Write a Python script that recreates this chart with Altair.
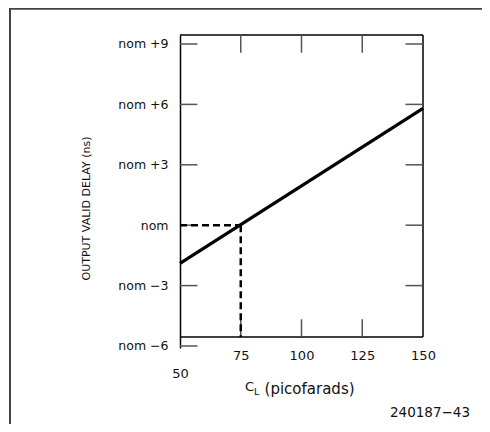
import altair as alt
import pandas as pd

# ---- data ----
x_ticks = [50, 75, 100, 125, 150]
y_ticks = [-6, -3, 0, 3, 6, 9]
y_tick_labels = ["nom −6", "nom −3", "nom", "nom +3", "nom +6", "nom +9"]
line_x = [50, 150]
line_y = [-1.9, 5.8]
ref_x = 75          # reference load (pF)
ref_y = 0           # nominal delay
x_domain = [50, 150]
y_domain = [-6.10, 9.447]
frame_top = 9.447
frame_bottom = -5.555
right_tick_values = [-3, 0, 3, 6, 9]
top_tick_values = [75, 100, 125]
x_title_parts = ["C", "L", "(picofarads)"]
footnote = "240187−43"

FONT = "DejaVu Sans"
xs = alt.Scale(domain=x_domain, nice=False, zero=False)
ys = alt.Scale(domain=y_domain, nice=False, zero=False)

label_expr = " : ".join(
    [f"datum.value == {v} ? '{l}'" for v, l in zip(y_ticks, y_tick_labels)]
) + " : ''"

xaxis = alt.Axis(values=x_ticks, title=None, domain=False, ticks=False, grid=False,
                 labelFont=FONT, labelFontSize=13, labelColor="#111",
                 labelPadding={"condition": {"test": "datum.value == 50", "value": 19}, "value": 1},
                 labelFlush=False)
yaxis = alt.Axis(values=y_ticks, labelExpr=label_expr, title="OUTPUT VALID DELAY (ns)",
                 domain=True, domainColor="#000", domainWidth=1.5, ticks=False, grid=False,
                 labelFont=FONT, labelFontSize=12.5, labelColor="#111", labelPadding=12,
                 titleFont=FONT, titleFontSize=11, titleFontWeight="normal", titleColor="#111",
                 titleX=-94, titleY=173, titleAlign="center", titleBaseline="middle")


def X(f):
    return alt.X(f, type="quantitative", scale=xs, axis=xaxis)


def Y(f):
    return alt.Y(f, type="quantitative", scale=ys, axis=yaxis)


# outer border (extends past the picture on right/bottom)
border = pd.DataFrame({"x": [-19.96], "x2": [260], "y": [10.75], "y2": [-30]})
border_layer = alt.Chart(border).mark_rect(fill=None, stroke="#444", strokeWidth=2).encode(
    x=X("x"), x2="x2", y=Y("y"), y2="y2")

# plot frame (top, bottom, right)
frame = pd.DataFrame({
    "x": [x_domain[0], x_domain[0], x_domain[1]],
    "x2": [x_domain[1], x_domain[1], x_domain[1]],
    "y": [frame_top, frame_bottom, frame_bottom],
    "y2": [frame_top, frame_bottom, frame_top],
})
frame_layer = alt.Chart(frame).mark_rule(color="#000", strokeWidth=1.5).encode(
    x=X("x"), x2="x2", y=Y("y"), y2="y2")

# inward ticks
xlen = 7.2
ylen = 0.88
rows = []
for v in y_ticks:
    rows.append({"x": x_domain[0], "x2": x_domain[0] + xlen, "y": v, "y2": v})
for v in right_tick_values:
    rows.append({"x": x_domain[1] - xlen, "x2": x_domain[1], "y": v, "y2": v})
for v in top_tick_values:
    rows.append({"x": v, "x2": v, "y": frame_top, "y2": frame_top - ylen})
    rows.append({"x": v, "x2": v, "y": frame_bottom, "y2": frame_bottom + ylen})
ticks_layer = alt.Chart(pd.DataFrame(rows)).mark_rule(color="#555", strokeWidth=1.5).encode(
    x=X("x"), x2="x2", y=Y("y"), y2="y2")

# dashed reference lines
dash = pd.DataFrame({
    "x": [x_domain[0], ref_x], "x2": [ref_x, ref_x],
    "y": [ref_y, ref_y], "y2": [ref_y, frame_bottom],
})
dash_layer = alt.Chart(dash).mark_rule(color="#000", strokeWidth=2.5, strokeDash=[7, 4]).encode(
    x=X("x"), x2="x2", y=Y("y"), y2="y2")

# main line
main = pd.DataFrame({"x": line_x, "y": line_y})
line_layer = alt.Chart(main).mark_line(color="#000", strokeWidth=3.2).encode(x=X("x"), y=Y("y"))

# x title (with subscript) and figure number
texts = pd.DataFrame({
    "x": [80.45, 80.5, 84.8, 169.34],
    "y": [-8.04, -8.30, -8.136, -9.328],
    "t": x_title_parts + [footnote],
    "size": [13, 9.5, 15, 13.5],
    "align": ["right", "left", "left", "right"],
})
text_layers = []
for _, r in texts.iterrows():
    text_layers.append(
        alt.Chart(pd.DataFrame([r])).mark_text(
            font=FONT, fontSize=float(r["size"]), align=r["align"], baseline="middle", color="#111"
        ).encode(x=X("x"), y=Y("y"), text="t:N")
    )

chart = alt.layer(border_layer, frame_layer, ticks_layer, dash_layer, line_layer, *text_layers).properties(
    width=243, height=313,
    padding={"left": 172, "top": 27, "right": 59, "bottom": 76},
    autosize=alt.AutoSizeParams(type="none"),
).configure_view(stroke=None)

chart.save("out.html", embed_options={"renderer": "svg", "actions": False})
